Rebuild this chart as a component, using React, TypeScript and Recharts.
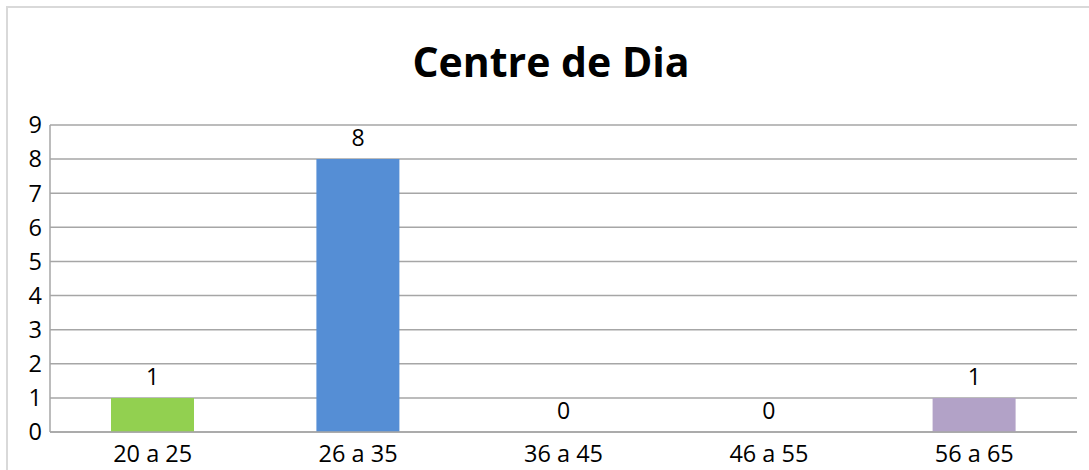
import React from "react";
import { ComposedChart, Bar, Line, XAxis, YAxis, CartesianGrid, Cell, LabelList } from "recharts";

const title = "Centre de Dia";
const categories = ["20 a 25", "26 a 35", "36 a 45", "46 a 55", "56 a 65"];
const values = [1, 8, 0, 0, 1];
const yTicks = [0, 1, 2, 3, 4, 5, 6, 7, 8, 9];

const BAR_COLORS = ["#92D050", "#558ED5", "#558ED5", "#558ED5", "#B2A2C7"];
const FONT = "'Open Sans', 'Liberation Sans', sans-serif";
const GRID = "#A6A6A6";

const data = categories.map((c, i) => ({ name: c, value: values[i] }));

export default function App() {
  return (
    <div
      style={{
        position: "absolute",
        left: 0,
        top: 0,
        width: 1089,
        height: 470,
        overflow: "hidden",
        background: "#fff",
        fontFamily: FONT,
      }}
    >
      <div
        style={{
          position: "absolute",
          left: 6,
          top: 6,
          width: 1200,
          height: 600,
          border: "2px solid #D9D9D9",
        }}
      />
      <div
        style={{
          position: "absolute",
          left: 0,
          top: 37,
          width: 1102,
          textAlign: "center",
          fontSize: 41,
          fontWeight: 700,
          lineHeight: "48px",
          color: "#000",
        }}
      >
        {title}
      </div>
      <div style={{ position: "absolute", left: 0, top: 0 }}>
        <ComposedChart
          width={1089}
          height={470}
          data={data}
          margin={{ top: 125, right: 12, bottom: 0, left: 0 }}
          barSize={83}
        >
          <CartesianGrid vertical={false} stroke={GRID} strokeWidth={1.5} />
          <XAxis
            dataKey="name"
            axisLine={{ stroke: GRID, strokeWidth: 1.5 }}
            tickLine={false}
            height={38}
            tickMargin={7}
            tick={{ fill: "#000", fontSize: 23.5, fontFamily: FONT }}
            interval={0}
          />
          <YAxis
            domain={[0, 9]}
            ticks={yTicks}
            width={50}
            axisLine={{ stroke: GRID, strokeWidth: 1.5 }}
            tickLine={false}
            tick={{ fill: "#000", fontSize: 23.5, fontFamily: FONT }}
            interval={0}
          />
          <Bar dataKey="value" isAnimationActive={false}>
            {data.map((d, i) => (
              <Cell key={d.name} fill={BAR_COLORS[i]} />
            ))}
          </Bar>
          <Line
            dataKey="value"
            stroke="none"
            dot={false}
            activeDot={false}
            isAnimationActive={false}
            legendType="none"
          >
            <LabelList
              dataKey="value"
              position="top"
              offset={13}
              fill="#000"
              fontSize={23}
              fontFamily={FONT}
            />
          </Line>
        </ComposedChart>
      </div>
    </div>
  );
}
